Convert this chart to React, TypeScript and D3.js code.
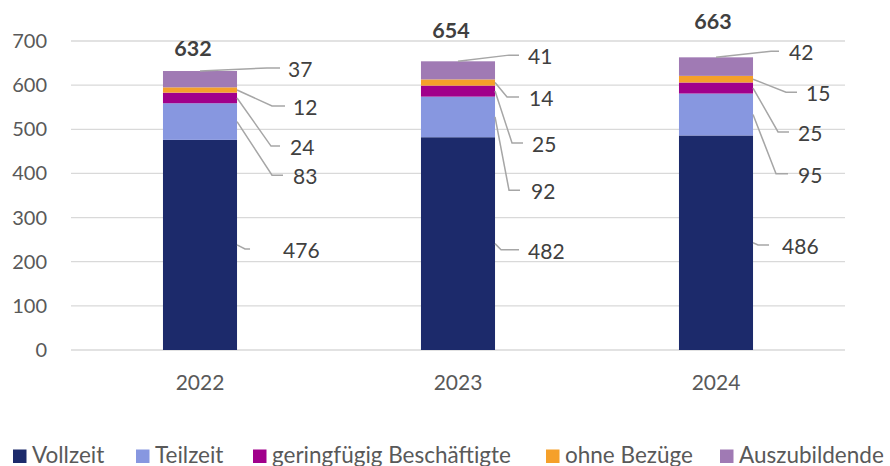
import React from 'react';
import * as d3 from 'd3';

const years = ['2022', '2023', '2024'];
const seriesNames = ['Vollzeit', 'Teilzeit', 'geringfügig Beschäftigte', 'ohne Bezüge', 'Auszubildende'];
const vollzeit = [476, 482, 486];
const teilzeit = [83, 92, 95];
const geringfuegig = [24, 25, 25];
const ohneBezuege = [12, 14, 15];
const auszubildende = [37, 41, 42];
const totals = [632, 654, 663];
const yTicks = [0, 100, 200, 300, 400, 500, 600, 700];

const colors = ['#1c2a6b', '#8797e0', '#a1008b', '#f5a02a', '#a07ab4'];

// label layout (manually placed labels, as in the original): y in data units, x offsets from bar's right edge
// [labelY, elbowDx, endDx, textDx] per series (Vollzeit..Auszubildende)
const labelLayout = [
  [[229, 8, 13, 46], [396, 35, 46, 56], [462, 34, 43, 53], [553, 35, 48, 56], [639, 30, 43, 51]],
  [[227, 6, 24, 33], [362, 14, 25, 36], [469, 17, 28, 37], [573, 12, 24, 34], [668, 14, 24, 33]],
  [[238, 5, 16, 29], [399, 23, 35, 45], [494, 25, 36, 45], [584, 33, 44, 53], [677, 18, 26, 36]],
];
const totalLabelGap = [23, 31, 36];
const totalLabelDx = [-7, -7, -3];
const legendX = [13, 136, 253, 546, 720];

const W = 890;
const H = 466;
const FONT = 'Lato, "Source Sans Pro", "Noto Sans", sans-serif';

export default function App() {
  const y = d3.scaleLinear().domain([0, 700]).range([350, 41]);
  const x = d3.scaleBand<string>().domain(years).range([71, 845]).paddingInner(0.713).paddingOuter(0.3565);
  const table = years.map((yr, i) => ({
    year: yr,
    s0: vollzeit[i],
    s1: teilzeit[i],
    s2: geringfuegig[i],
    s3: ohneBezuege[i],
    s4: auszubildende[i],
  }));
  const keys = ['s0', 's1', 's2', 's3', 's4'];
  const stacked = d3.stack<any>().keys(keys)(table);
  const bw = x.bandwidth();

  return (
    <svg width={W} height={H} style={{ position: 'absolute', left: 0, top: 0, fontFamily: FONT }}>
      <rect width={W} height={H} fill="#ffffff" />
      {yTicks.map((t) => (
        <g key={t}>
          <line x1={71} x2={845} y1={y(t)} y2={y(t)} stroke="#d9d9d9" strokeWidth={1.3} />
          <text x={47} y={y(t)} dy="0.35em" textAnchor="end" fontSize={20} fill="#595959">
            {t}
          </text>
        </g>
      ))}
      {stacked.map((layer, si) => (
        <g key={si} fill={colors[si]}>
          {layer.map((d, i) => (
            <rect key={i} x={x(years[i])} y={y(d[1])} width={bw} height={y(d[0]) - y(d[1])} />
          ))}
        </g>
      ))}
      {stacked.map((layer, si) =>
        layer.map((d, i) => {
          const right = (x(years[i]) as number) + bw;
          const [lv, edx, endx, tdx] = labelLayout[i][si];
          const ly = y(lv);
          const ax = si === 4 ? (x(years[i]) as number) + bw / 2 : right;
          const ay = si === 4 ? y(d[1]) : y((d[0] + d[1]) / 2);
          const val = d[1] - d[0];
          return (
            <g key={`${si}-${i}`}>
              <polyline
                points={`${ax},${ay} ${right + edx},${ly} ${right + endx},${ly}`}
                fill="none"
                stroke="#a6a6a6"
                strokeWidth={1.5}
              />
              <text x={right + tdx} y={ly + 1.5} dy="0.35em" fontSize={21} fill="#404040">
                {val}
              </text>
            </g>
          );
        })
      )}
      {totals.map((t, i) => (
        <text
          key={i}
          x={(x(years[i]) as number) + bw / 2 + totalLabelDx[i]}
          y={y(t) - totalLabelGap[i]}
          dy="0.35em"
          textAnchor="middle"
          fontSize={21.5}
          fontWeight="bold"
          fill="#404040"
        >
          {t}
        </text>
      ))}
      {years.map((yr) => (
        <text
          key={yr}
          x={(x(yr) as number) + bw / 2}
          y={383}
          dy="0.35em"
          textAnchor="middle"
          fontSize={21}
          fill="#595959"
        >
          {yr}
        </text>
      ))}
      {seriesNames.map((n, i) => (
        <g key={n}>
          <rect x={legendX[i]} y={449.5} width={13.5} height={13.5} fill={colors[i]} />
          <text x={legendX[i] + 19} y={462.5} fontSize={22.5} fill="#595959">
            {n}
          </text>
        </g>
      ))}
    </svg>
  );
}
